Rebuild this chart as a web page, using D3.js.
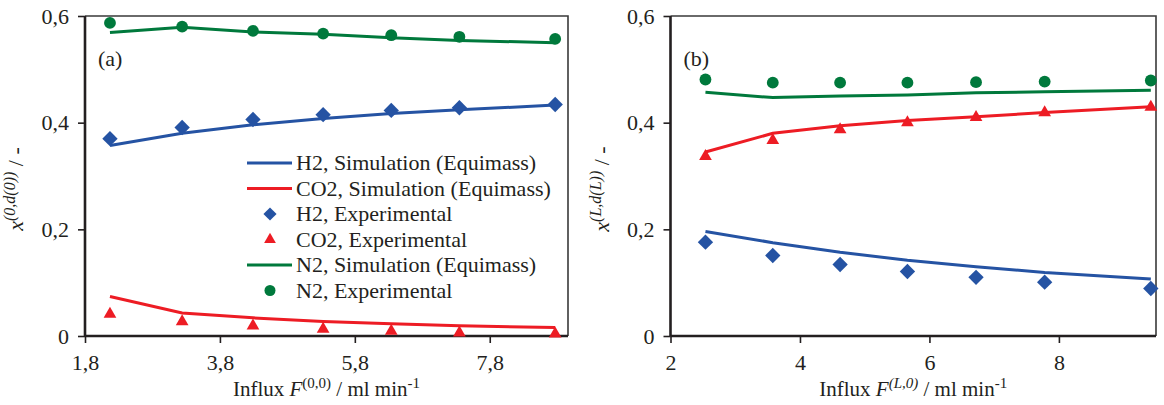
<!DOCTYPE html>
<html>
<head>
<meta charset="utf-8">
<script src="https://cdn.jsdelivr.net/npm/d3@7"></script>
<style>
  body { margin: 0; background: #fff; }
  text { font-family: "Liberation Serif", "Times New Roman", serif; fill: #231f20; }
</style>
</head>
<body>
<div id="chart"></div>
<script>
const width = 1164;
const height = 405;

// influx values (ml/min)
const fluxA = [2.17, 3.24, 4.29, 5.33, 6.34, 7.35, 8.77];
const fluxB = [2.54, 3.58, 4.62, 5.66, 6.72, 7.78, 9.42];

// panel (a): x^(0,d(0))
const h2SimA = [0.357, 0.380, 0.396, 0.408, 0.417, 0.424, 0.433];
const co2SimA = [0.074, 0.043, 0.034, 0.027, 0.023, 0.019, 0.016];
const n2SimA = [0.569, 0.579, 0.570, 0.566, 0.559, 0.554, 0.550];
const h2ExpA = [0.370, 0.391, 0.406, 0.415, 0.423, 0.428, 0.434];
const co2ExpA = [0.041, 0.027, 0.019, 0.013, 0.009, 0.006, 0.004];
const n2ExpA = [0.587, 0.580, 0.572, 0.567, 0.564, 0.561, 0.557];

// panel (b): x^(L,d(L))
const h2SimB = [0.196, 0.175, 0.157, 0.142, 0.130, 0.119, 0.107];
const co2SimB = [0.345, 0.380, 0.394, 0.404, 0.411, 0.419, 0.430];
const n2SimB = [0.457, 0.447, 0.450, 0.452, 0.456, 0.458, 0.461];
const h2ExpB = [0.176, 0.151, 0.134, 0.121, 0.110, 0.101, 0.089];
const co2ExpB = [0.337, 0.367, 0.387, 0.400, 0.410, 0.419, 0.429];
const n2ExpB = [0.481, 0.475, 0.475, 0.475, 0.476, 0.477, 0.479];

const yTicks = [0, 0.2, 0.4, 0.6];
const xTicksA = [1.8, 3.8, 5.8, 7.8];
const xTicksB = [2, 4, 6, 8];

const legendLabels = [
  "H2, Simulation (Equimass)",
  "CO2, Simulation (Equimass)",
  "H2, Experimental",
  "CO2, Experimental",
  "N2, Simulation (Equimass)",
  "N2, Experimental"
];

const blue = "#2553a3";
const red = "#ed1c24";
const green = "#00793c";
const fontSize = 22;

const comma = (d) => (d === 0 ? "0" : String(d).replace(".", ","));

const svg = d3
  .select("#chart")
  .append("svg")
  .attr("width", width)
  .attr("height", height);

svg.append("rect").attr("width", width).attr("height", height).attr("fill", "#fff");

function drawPanel(opt) {
  const x = d3.scaleLinear().domain(opt.xDomain).range(opt.xRange);
  const y = d3.scaleLinear().domain([0, 0.6]).range([336, 16]);
  const g = svg.append("g");

  // top and right frame
  g.append("path")
    .attr("d", `M${opt.xRange[0]},${y(0.6)}H${opt.xRange[1]}V${y(0)}`)
    .attr("fill", "none")
    .attr("stroke", "#3a3a3a")
    .attr("stroke-width", 1.6);

  const yAxis = g
    .append("g")
    .attr("transform", `translate(${opt.xRange[0]},0)`)
    .call(d3.axisLeft(y).tickValues(yTicks).tickFormat(comma).tickSize(7).tickPadding(9));

  const xAxis = g
    .append("g")
    .attr("transform", `translate(0,${y(0)})`)
    .call(d3.axisBottom(x).tickValues(opt.xTicks).tickFormat(opt.xFormat).tickSize(7).tickPadding(11));

  [yAxis, xAxis].forEach((a) => {
    a.select(".domain").attr("stroke", "#231f20").attr("stroke-width", 2.6);
    a.selectAll(".tick line").attr("stroke", "#231f20").attr("stroke-width", 1.6);
    a.selectAll(".tick text").attr("font-size", fontSize).attr("fill", "#231f20")
      .style("font-family", '"Liberation Serif", serif');
  });
  yAxis.select(".domain").attr("d", `M0,${y(0.6)}V${y(0)}`);
  xAxis.select(".domain").attr("d", `M${opt.xRange[0]},0H${opt.xRange[1]}`);

  const line = d3.line().x((d) => x(d[0])).y((d) => y(d[1]));

  opt.series.forEach((s) => {
    const pts = opt.flux.map((f, i) => [f, s.values[i]]);
    if (s.type === "line") {
      g.append("path")
        .datum(pts)
        .attr("d", line)
        .attr("fill", "none")
        .attr("stroke", s.color)
        .attr("stroke-width", 3);
    } else {
      g.selectAll(null)
        .data(pts)
        .enter()
        .append("path")
        .attr("transform", (d) => `translate(${x(d[0])},${y(d[1])})`)
        .attr("d", d3.symbol().type(s.symbol).size(s.size))
        .attr("fill", s.color);
    }
  });

  g.append("text")
    .attr("x", opt.xRange[0] + 13)
    .attr("y", 66)
    .attr("font-size", fontSize)
    .text(opt.tag);

  // x axis title
  const xt = g.append("text")
    .attr("x", (opt.xRange[0] + opt.xRange[1]) / 2)
    .attr("y", 396)
    .attr("text-anchor", "middle")
    .attr("font-size", 21);
  xt.append("tspan").text("Influx ");
  xt.append("tspan").attr("font-style", "italic").text("F");
  xt.append("tspan").attr("font-size", 15).attr("dy", -8)
    .attr("font-style", opt.supItalic ? "italic" : "normal").text(opt.xSup);
  xt.append("tspan").attr("dy", 8).text(" / ml min");
  xt.append("tspan").attr("font-size", 15).attr("dy", -8).text("-1");

  // y axis title
  const yt = g.append("text")
    .attr("transform", `translate(${opt.xRange[0] - 62},${189}) rotate(-90)`)
    .attr("text-anchor", "middle")
    .attr("font-size", fontSize);
  yt.append("tspan").attr("font-style", "italic").text("x");
  yt.append("tspan").attr("font-size", 16).attr("dy", -8).attr("font-style", "italic").text(opt.ySup);
  yt.append("tspan").attr("dy", 8).text(" / -");

  return { x, y, g };
}

const seriesDefs = (h2s, co2s, n2s, h2e, co2e, n2e) => [
  { type: "line", values: h2s, color: blue },
  { type: "line", values: co2s, color: red },
  { type: "line", values: n2s, color: green },
  { type: "point", values: h2e, color: blue, symbol: d3.symbolDiamond2, size: 150 },
  { type: "point", values: co2e, color: red, symbol: d3.symbolTriangle, size: 70 },
  { type: "point", values: n2e, color: green, symbol: d3.symbolCircle, size: 110 }
];

const panelA = drawPanel({
  xDomain: [1.8, 8.96],
  xRange: [85, 568],
  xTicks: xTicksA,
  xFormat: (d) => d.toFixed(1).replace(".", ","),
  flux: fluxA,
  series: seriesDefs(h2SimA, co2SimA, n2SimA, h2ExpA, co2ExpA, n2ExpA),
  tag: "(a)",
  xSup: "(0,0)",
  supItalic: false,
  ySup: "(0,d(0))"
});

drawPanel({
  xDomain: [2, 9.5],
  xRange: [670.5, 1156],
  xTicks: xTicksB,
  xFormat: (d) => String(d),
  flux: fluxB,
  series: seriesDefs(h2SimB, co2SimB, n2SimB, h2ExpB, co2ExpB, n2ExpB),
  tag: "(b)",
  xSup: "(L,0)",
  supItalic: true,
  ySup: "(L,d(L))"
});

// legend inside panel (a)
const legendKeys = [
  { type: "line", color: blue },
  { type: "line", color: red },
  { type: "point", color: blue, symbol: d3.symbolDiamond2, size: 110 },
  { type: "point", color: red, symbol: d3.symbolTriangle, size: 60 },
  { type: "line", color: green },
  { type: "point", color: green, symbol: d3.symbolCircle, size: 95 }
];

const legend = panelA.g.append("g");
const row = legend
  .selectAll("g")
  .data(legendLabels)
  .enter()
  .append("g")
  .attr("transform", (d, i) => `translate(0,${163 + i * 25.5})`);

row.each(function (d, i) {
  const k = legendKeys[i];
  const r = d3.select(this);
  if (k.type === "line") {
    r.append("line").attr("x1", 247).attr("x2", 292).attr("stroke", k.color).attr("stroke-width", 3);
  } else {
    r.append("path")
      .attr("transform", "translate(270,0)")
      .attr("d", d3.symbol().type(k.symbol).size(k.size))
      .attr("fill", k.color);
  }
  r.append("text")
    .attr("x", 296)
    .attr("y", 7)
    .attr("font-size", fontSize)
    .text(d);
});
</script>
</body>
</html>
